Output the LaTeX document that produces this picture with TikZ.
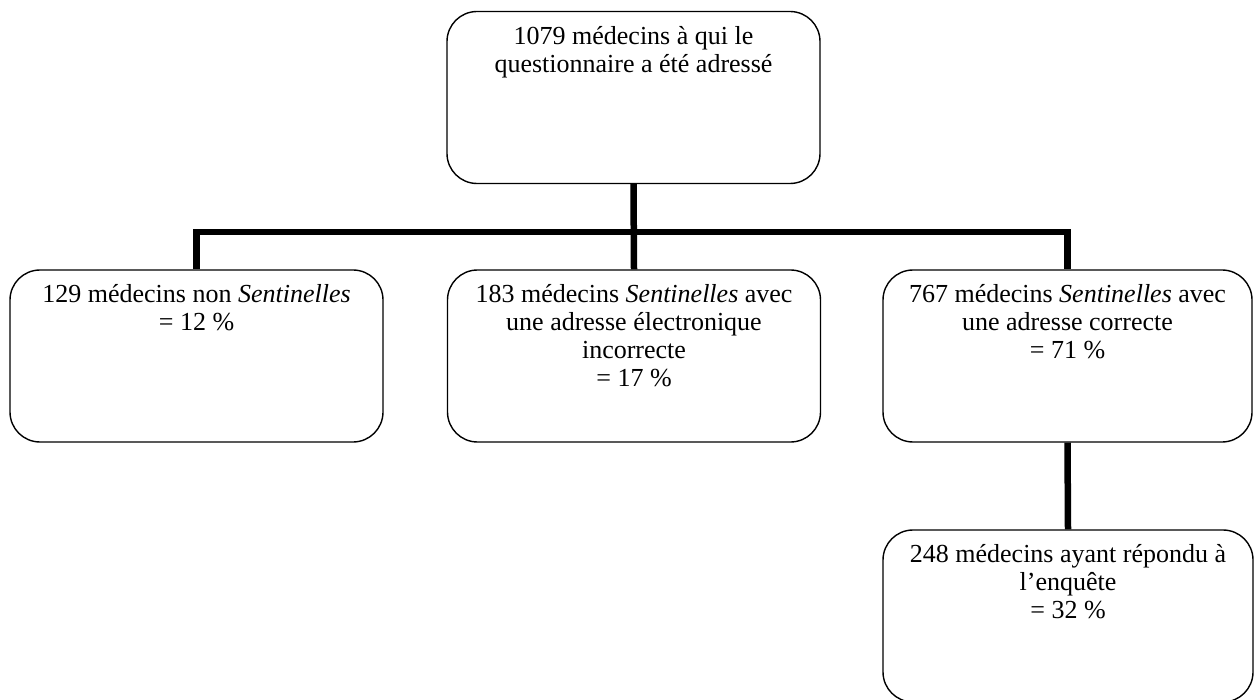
\documentclass[tikz,border=0pt]{standalone}
\usepackage{fontspec}
\setmainfont{Liberation Serif}
\begin{document}
\begin{tikzpicture}[x=1pt,y=-1pt,
  box/.style={draw, line width=1.4pt, rounded corners=30pt, minimum width=373pt, minimum height=172pt, inner sep=0pt},
  txt/.style={anchor=north, align=center, inner sep=0pt, font=\fontsize{26}{28}\selectfont},
  conn/.style={line width=6.5pt, line join=miter}]
\useasboundingbox (0,0) rectangle (1255,700);
\node[box] (top) at (633.5,97.5) {};
\node[box] (left) at (196.5,356) {};
\node[box] (mid) at (634,356) {};
\node[box, minimum width=369pt] (right) at (1067.5,356) {};
\node[box, minimum width=370pt] (bot) at (1068,616) {};
\coordinate (j) at (633,232);
\draw[conn] (left.north) -- (left.north |- j) -- (right.north |- j) -- (right.north);
\draw[conn] (top.south) -- (mid.north);
\draw[conn] (right.south) -- (bot.north);
\node[txt] (ttop) at ([yshift=-15pt]top.north) {1079 médecins à qui le\\questionnaire a été adressé};
\node[txt] (tleft) at ([yshift=-15pt]left.north) {129 médecins non \textit{Sentinelles}\\= 12 \%};
\node[txt] (tmid) at ([yshift=-15pt]mid.north) {183 médecins \textit{Sentinelles} avec\\une adresse électronique\\incorrecte\\= 17 \%};
\node[txt] (tright) at ([yshift=-15pt]right.north) {767 médecins \textit{Sentinelles} avec\\une adresse correcte\\= 71 \%};
\node[txt] (tbot) at ([yshift=-15pt]bot.north) {248 médecins ayant répondu à\\l’enquête\\= 32 \%};
\end{tikzpicture}
\end{document}
